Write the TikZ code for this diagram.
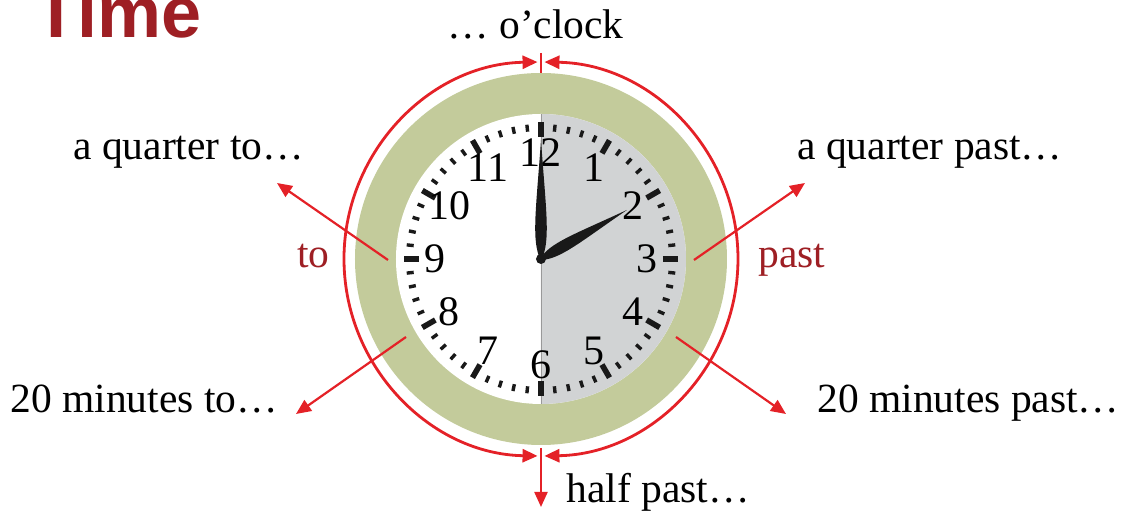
\documentclass[tikz,border=0pt]{standalone}
\usepackage{fontspec}
\setmainfont{Liberation Serif}
\newfontfamily\headfont{Liberation Sans}
\usetikzlibrary{arrows.meta}
\definecolor{ringgreen}{RGB}{195,203,155}
\definecolor{facegray}{RGB}{209,211,212}
\definecolor{signred}{RGB}{228,33,39}
\definecolor{wordred}{RGB}{158,31,36}

\begin{document}
\begin{tikzpicture}[
  x=0.5pt, y=0.5pt,
  phrase/.style={font=\fontsize{20.75}{24}\selectfont, inner sep=0pt, anchor=base west},
  numeral/.style={font=\fontsize{21}{24}\selectfont, inner sep=0pt},
  redline/.style={draw=signred, line width=1.4pt},
  tipped/.style={-{Triangle[length=7.5pt,width=6.5pt]}},
  bothtipped/.style={{Triangle[length=7.5pt,width=6.5pt]}-{Triangle[length=7.5pt,width=6.5pt]}},
]
  \useasboundingbox (-541,-258) rectangle (591,259);

  % ring and face, right half grey
  \fill[ringgreen] (0,0) circle[radius=186];
  \fill[white] (0,0) circle[radius=145];
  \fill[facegray] (0,-145) arc[start angle=-90, end angle=90, radius=145] -- cycle;
  \draw[black!40, line width=0.4pt] (0,145) -- (0,-145);

  % minute ticks: long ones every five minutes
  \foreach \i in {0,...,59} {
    \pgfmathtruncatemacro\rest{mod(\i,5)}
    \ifnum\rest=0
      \draw[line width=2.8pt, black!90] (\i*6:122) -- (\i*6:137);
    \else
      \draw[line width=1.7pt, black!90] (\i*6:128) -- (\i*6:135);
    \fi
  }
  \foreach \h in {1,...,12} {
    \node[numeral] (N\h) at ({90-\h*30}:106) {\h};
  }

  % hands (minute to 12, hour to 2)
  \foreach \ang/\len in {90/119, 29.7/99} {
    \fill[black!90, rotate=\ang] (-2,0)
      .. controls ({0.15*\len},10) and ({0.4*\len},5) .. (\len,0)
      .. controls ({0.4*\len},-5) and ({0.15*\len},-10) .. (-2,0) -- cycle;
  }
  \fill[black!90] (0,0) circle[radius=5];

  % red circle in two halves, meeting at 12 and 6
  \draw[redline, bothtipped] (91:197) arc[start angle=91, end angle=269, radius=197];
  \draw[redline, bothtipped] (89:197) arc[start angle=89, end angle=-89, radius=197];
  \coordinate (top-a) at (0,206);
  \coordinate (top-b) at (0,186);
  \coordinate (bot-a) at (0,-189);
  \coordinate (bot-b) at (0,-248);
  \draw[redline, line width=1.1pt] (top-a) -- (top-b);
  \draw[redline, line width=1.1pt, tipped] (bot-a) -- (bot-b);

  \coordinate (qpast-s) at (153,-1);
  \coordinate (qpast-e) at (264,76);
  \coordinate (qto-s) at (-153,-1);
  \coordinate (qto-e) at (-264,76);
  \coordinate (mpast-s) at (135,-78);
  \coordinate (mpast-e) at (245,-155);
  \coordinate (mto-s) at (-135,-78);
  \coordinate (mto-e) at (-245,-155);
  \foreach \a in {qpast, qto, mpast, mto} {
    \draw[redline, line width=1.1pt, tipped] (\a-s) -- (\a-e);
  }

  % words
  \node[anchor=base west, inner sep=0pt, text=wordred, font=\headfont\bfseries\fontsize{36}{40}\selectfont] (title) at (-507,221) {Time};
  \node[phrase] (oclock) at (-94,220) {… o’clock};
  \node[phrase] (qto) at (-468,99) {a quarter to…};
  \node[phrase] (qpast) at (256,99) {a quarter past…};
  \node[phrase] (mto) at (-531,-154) {20 minutes to…};
  \node[phrase] (mpast) at (276,-154) {20 minutes past…};
  \node[phrase] (halfpast) at (25,-244) {half past…};
  \node[phrase, text=wordred] (to) at (-244,-9) {to};
  \node[phrase, text=wordred] (past) at (217,-9) {past};
\end{tikzpicture}
\end{document}
